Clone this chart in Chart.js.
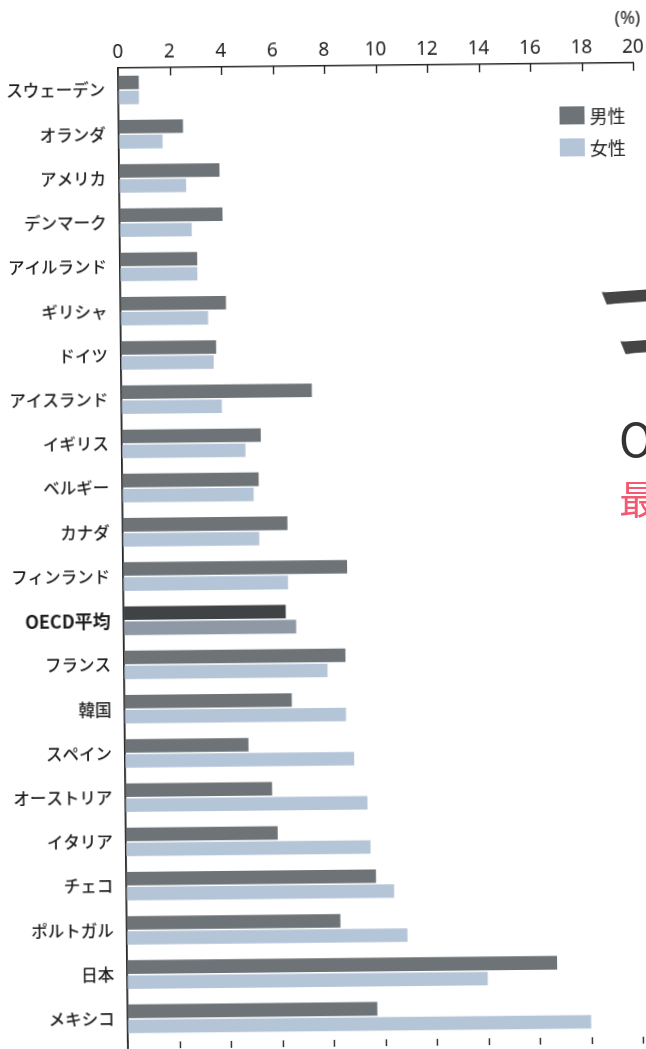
<!DOCTYPE html>
<html lang="ja">
<head>
<meta charset="utf-8">
<title>男女別の割合</title>
<script src="https://cdn.jsdelivr.net/npm/chart.js@4.4.1/dist/chart.umd.min.js"></script>
<style>
  html, body { margin: 0; padding: 0; background: #fff; overflow: hidden; width: 646px; height: 1049px; }
  #page { position: absolute; left: 0; top: 0; width: 646px; height: 1049px;
          transform: rotate(-0.58deg); transform-origin: 118px 67px; }
  #page canvas { position: absolute; left: 0; top: 0; }
  #unit { position: absolute; left: 615px; top: 10px; font: 18px "Noto Sans", sans-serif; color: #222; }
  #legend { position: absolute; left: 559px; top: 104px; font: 18px "Noto Sans CJK JP", sans-serif; color: #222; }
  #legend .item { display: flex; align-items: center; height: 32px; }
  #legend .sw { width: 25px; height: 18px; margin-right: 5px; }
  .edge { position: absolute; white-space: nowrap; font-family: "Noto Sans CJK JP", sans-serif; line-height: 1; }
</style>
</head>
<body>
<div id="page">
  <canvas id="chart" width="646" height="1049"></canvas>
  <div id="unit">(%)</div>
  <div id="legend"></div>
</div>
<!-- headline fragments from the facing page -->
<div class="edge" style="left:597px; top:268px; font-size:92px; font-weight:bold; color:#454545; transform:rotate(-4deg) skewX(18deg);">コ</div>
<div class="edge" style="left:619px; top:414px; font-size:46px; color:#333;">O</div>
<div class="edge" style="left:619px; top:477px; font-size:40px; color:#f25a72;">最</div>
<script>
const categories = ['スウェーデン', 'オランダ', 'アメリカ', 'デンマーク', 'アイルランド', 'ギリシャ', 'ドイツ',
  'アイスランド', 'イギリス', 'ベルギー', 'カナダ', 'フィンランド', 'OECD平均', 'フランス', '韓国', 'スペイン',
  'オーストリア', 'イタリア', 'チェコ', 'ポルトガル', '日本', 'メキシコ'];
const maleValues   = [0.8, 2.5, 3.9, 4.0, 3.0, 4.1, 3.7, 7.4, 5.4, 5.3, 6.4, 8.7, 6.3, 8.6, 6.5, 4.8, 5.7, 5.9, 9.7, 8.3, 16.7, 9.7];
const femaleValues = [0.8, 1.7, 2.6, 2.8, 3.0, 3.4, 3.6, 3.9, 4.8, 5.1, 5.3, 6.4, 6.7, 7.9, 8.6, 8.9, 9.4, 9.5, 10.4, 10.9, 14.0, 18.0];
const seriesNames = ['男性', '女性'];
const avgLabel = 'OECD平均';
const xMin = 0, xMax = 20, xStep = 2;

const maleColor = '#6e7377', femaleColor = '#b5c5d8';
const avgMaleColor = '#404346', avgFemaleColor = '#8f99a6';
const inkColor = '#262626';

const barColors = (normal, avg) => categories.map(c => c === avgLabel ? avg : normal);

// no extra room around the scales beyond the layout padding
const noScalePadding = s => {
  s.paddingTop = 0; s.paddingBottom = 0; s.paddingLeft = 0; s.paddingRight = 0;
};

// tick marks point into the plot at the top, and hang below it at the bottom
const edgeTicks = {
  id: 'edgeTicks',
  afterDraw(chart) {
    const { ctx, chartArea: area } = chart;
    const xs = chart.scales.x;
    ctx.save();
    ctx.strokeStyle = inkColor;
    ctx.lineWidth = 1.4;
    xs.ticks.forEach((t, i) => {
      if (i === 0) return;
      const px = Math.round(xs.getPixelForTick(i)) + 0.5;
      ctx.beginPath();
      ctx.moveTo(px, area.top);
      ctx.lineTo(px, area.top + 8);
      ctx.moveTo(px, area.bottom + 1);
      ctx.lineTo(px, chart.height);
      ctx.stroke();
    });
    // vertical axis runs on to the edge of the page
    ctx.lineWidth = 1.8;
    ctx.beginPath();
    ctx.moveTo(area.left, area.bottom);
    ctx.lineTo(area.left, chart.height);
    ctx.stroke();
    ctx.restore();
  }
};

const chart = new Chart(document.getElementById('chart'), {
  type: 'bar',
  data: {
    labels: categories,
    datasets: [
      { label: seriesNames[0], data: maleValues, backgroundColor: barColors(maleColor, avgMaleColor) },
      { label: seriesNames[1], data: femaleValues, backgroundColor: barColors(femaleColor, avgFemaleColor) }
    ]
  },
  options: {
    indexAxis: 'y',
    responsive: false,
    animation: false,
    devicePixelRatio: 1,
    layout: { padding: { top: 0, right: 13, bottom: 8, left: 0 } },
    datasets: { bar: { categoryPercentage: 0.68, barPercentage: 0.9 } },
    plugins: { legend: { display: false }, tooltip: { enabled: false } },
    scales: {
      x: {
        position: 'top',
        min: xMin, max: xMax,
        afterFit: s => { s.height = 68; noScalePadding(s); },
        grid: { display: true, drawOnChartArea: false, drawTicks: false },
        border: { display: true, color: inkColor, width: 1.5 },
        ticks: {
          stepSize: xStep, padding: 4, color: '#222',
          font: { family: '"Noto Sans", sans-serif', size: 19 }
        }
      },
      y: {
        afterFit: s => { s.width = 118; noScalePadding(s); },
        grid: { display: false },
        border: { display: true, color: inkColor, width: 1.8 },
        ticks: {
          padding: 5, color: '#1e1e1e',
          font: ctx => {
            const avg = ctx.tick && ctx.tick.label === avgLabel;
            return { family: '"Noto Sans CJK JP", sans-serif', size: avg ? 18 : 16.5, weight: avg ? 'bold' : '500' };
          }
        }
      }
    }
  },
  plugins: [edgeTicks]
});

// legend built from the chart's datasets
const legend = document.getElementById('legend');
chart.data.datasets.forEach(ds => {
  const item = document.createElement('div');
  item.className = 'item';
  const sw = document.createElement('span');
  sw.className = 'sw';
  sw.style.background = ds.backgroundColor[0];
  item.appendChild(sw);
  item.appendChild(document.createTextNode(ds.label));
  legend.appendChild(item);
});
</script>
</body>
</html>
